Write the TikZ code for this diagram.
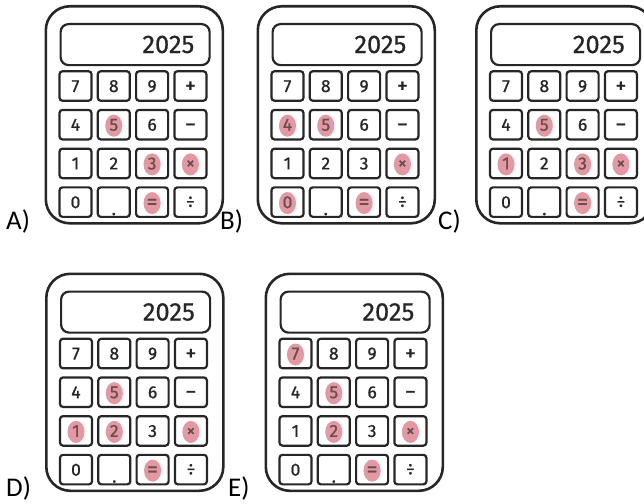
\documentclass[tikz,border=0pt]{standalone}
\usepackage{fontspec}
\setmainfont{Carlito}
\newfontfamily\keyfont[FakeBold=0.9]{Fira Sans}
\newfontfamily\screenfont[FakeBold=0.5]{Fira Sans}
\definecolor{ink}{HTML}{262626}
\definecolor{press}{RGB}{228,152,162}
\newcommand\bigop[1]{{\fontsize{22}{22}\selectfont#1}}
\tikzset{
  calcbody/.style={draw=ink, line width=2.6pt, rounded corners=24pt, inner sep=0pt,
    minimum width=177pt, minimum height=217pt, anchor=north west},
  screen/.style={draw=ink, line width=2.2pt, rounded corners=8pt, inner sep=0pt,
    minimum width=149pt, minimum height=41pt, anchor=north west},
  readout/.style={font=\screenfont\fontsize{25.5}{25.5}\selectfont, text=ink, anchor=base east, inner sep=0pt},
  keybox/.style={draw=ink, line width=2.2pt, rounded corners=3pt, inner sep=0pt,
    minimum width=32pt, minimum height=29.5pt},
  keytext/.style={font=\keyfont\fontsize{17.5}{17.5}\selectfont, text=ink, anchor=base, inner sep=0pt},
  blob/.style={fill=press, ellipse, inner sep=0pt, minimum width=17pt, minimum height=22pt},
  tint/.style={fill=press, fill opacity=0.35, ellipse, inner sep=0pt, minimum width=17pt, minimum height=22pt},
  option/.style={font=\fontsize{27}{27}\selectfont, anchor=base west, inner sep=0pt},
}
% #1 name, #2/#3 top-left corner, #4 pressed keys as row/column pairs
\newcommand\calcdraw[4]{%
  \begin{scope}[shift={(#2,#3)}]
    \node[calcbody] (#1-body) at (0,0) {};
    \node[screen] (#1-screen) at (15,18) {};
    \node[readout] (#1-value) at (150,48) {2025};
    % pressed keys: coloured patch under the label
    \foreach \r/\c in {#4} {
      \node[blob] (#1-p\r\c) at ({31+(\c-1)*38.3},{82+(\r-1)*38.7}) {};
    }
    % key grid
    \foreach \r/\c/\t/\d in {1/1/7/6,1/2/8/6,1/3/9/6,1/4/{\bigop{+}}/7,
                             2/1/4/6,2/2/5/6,2/3/6/6,2/4/{\bigop{−}}/7,
                             3/1/1/6,3/2/2/6,3/3/3/6,3/4/×/5.5,
                             4/1/0/6,4/2/./13,4/3/{\bigop{=}}/7,4/4/÷/5.5} {
      \node[keybox] (#1-k\r\c) at ({31+(\c-1)*38.3},{81+(\r-1)*38.7}) {};
      \node[keytext] (#1-t\r\c) at ({31+(\c-1)*38.3},{81+(\r-1)*38.7+\d}) {\t};
    }
    % tint over the pressed labels
    \foreach \r/\c in {#4} {
      \node[tint] at ({31+(\c-1)*38.3},{82+(\r-1)*38.7}) {};
    }
  \end{scope}}
\usetikzlibrary{shapes.geometric}
\begin{document}
\begin{tikzpicture}[x=1pt,y=-1pt]
  \useasboundingbox (0,0) rectangle (644,503);
  \begin{scope}
    \clip (0,0) rectangle (644,503);
    \calcdraw{A}{44.5}{5}{2/2,3/3,3/4,4/3}
    \calcdraw{B}{256.5}{5}{2/1,2/2,3/4,4/1,4/3}
    \calcdraw{C}{475}{5}{2/2,3/1,3/3,3/4,4/3}
    \calcdraw{D}{45}{272.5}{2/2,3/1,3/2,3/4,4/3}
    \calcdraw{E}{264.5}{272.5}{1/1,2/2,3/2,3/4,4/3}
  \end{scope}
  \node[option] (la) at (6,229) {A)};
  \node[option] (lb) at (220,229) {B)};
  \node[option] (lc) at (438,229) {C)};
  \node[option] (ld) at (6,496) {D)};
  \node[option] (le) at (228,496) {E)};
\end{tikzpicture}
\end{document}
